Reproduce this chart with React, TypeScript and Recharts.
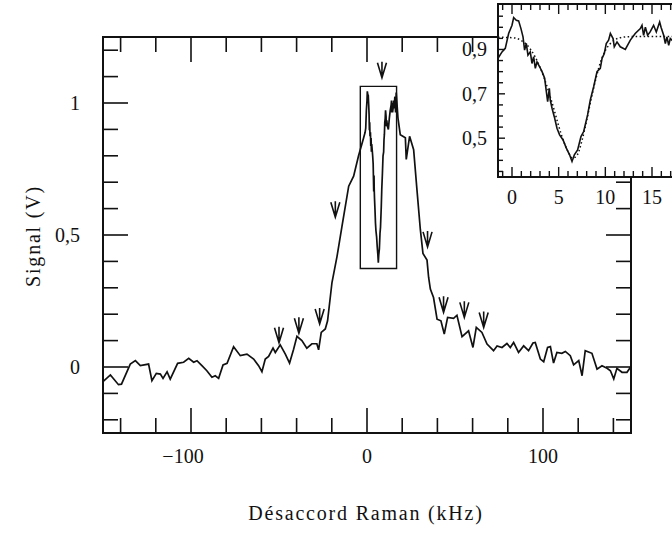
import {
  ComposedChart,
  Line,
  ReferenceArea,
  Scatter,
  XAxis,
  YAxis
} from 'recharts'

// main spectrum (kHz, V)
const MAIN_KHZ = [
  -150, -145.8, -141.2, -139.5, -134.5, -131.6, -128.8, -124.1, -122.2, -119.7, -117.4, -115.9,
  -113.6, -111.8, -107.6, -104.2, -101.3, -98.5, -96.6, -93.8, -91, -88.1, -86.2, -84.3, -81.8,
  -79.5, -75.8, -72, -68.2, -64.4, -61.6, -59.7, -57.8, -55.9, -53.4, -52.1, -49.3, -46.4, -44,
  -41.7, -39.8, -37, -34.2, -31.3, -28.5, -27.5, -26, -23.7, -22.4, -19.9, -17, -14.2, -10.4,
  -7.6, -4.8, -1.9, -1.07, -0.72, -0.36, 0, 0.18, 0.46, 0.71, 0.96, 1.18, 1.35, 1.53, 1.71, 1.96,
  2.14, 2.32, 2.5, 2.68, 2.96, 3.22, 3.5, 3.68, 3.82, 4.0, 4.1, 4.29, 4.53, 4.82, 5.1, 5.47, 5.82,
  6.17, 6.43, 6.68, 7.03, 7.39, 7.68, 8.1, 8.39, 8.75, 9.11, 9.46, 9.65, 9.89, 10.1, 10.35, 10.54,
  10.83, 10.96, 11.25, 11.6, 12.14, 12.68, 13.2, 13.75, 13.93, 14.1, 14.29, 14.53, 14.8, 15.17,
  15.46, 15.82, 15.97, 16.25, 16.6, 17.6, 18.9, 21.8, 22.3, 24.2, 26.5, 28.4, 30.3, 31.8, 34.1,
  35, 36, 37.8, 39.8, 42, 43.9, 45.8, 49.2, 51.1, 54, 57.7, 60.2, 62.1, 65.3, 68.2, 71.9, 73.9,
  76.7, 79.5, 81.4, 83.3, 86.1, 89, 91.8, 94.3, 95.6, 98.5, 100.4, 102.6, 104.2, 106, 107.9,
  110.7, 112.7, 115.5, 117.4, 120.3, 122.2, 124, 127.8, 130.7, 133.5, 136.4, 138.3, 140.2, 142,
  144.9, 147.7, 150
]
const MAIN_V = [
  -0.055, -0.03, -0.067, -0.065, 0.011, 0.024, 0.005, 0.011, -0.052, -0.024, -0.027, -0.043,
  -0.018, -0.046, 0.014, 0.018, 0.033, 0.018, 0.024, 0.005, -0.014, -0.039, -0.033, -0.043, 0.008,
  0.014, 0.077, 0.043, 0.049, 0.03, 0.005, -0.018, 0.03, 0.04, 0.072, 0.055, 0.084, 0.049, 0.015,
  0.067, 0.116, 0.1, 0.071, 0.088, 0.088, 0.065, 0.131, 0.144, 0.175, 0.32, 0.42, 0.534, 0.685,
  0.723, 0.8, 0.868, 0.889, 0.905, 0.972, 1.009, 1.044, 1.032, 1.029, 0.994, 0.957, 0.897, 0.927,
  0.874, 0.889, 0.837, 0.867, 0.815, 0.844, 0.822, 0.8, 0.77, 0.71, 0.665, 0.725, 0.672, 0.635,
  0.597, 0.545, 0.515, 0.492, 0.455, 0.425, 0.395, 0.425, 0.447, 0.507, 0.53, 0.605, 0.672, 0.732,
  0.8, 0.815, 0.86, 0.882, 0.927, 0.942, 0.972, 0.949, 0.912, 0.934, 0.912, 0.9, 0.942, 0.972,
  0.994, 1.009, 0.964, 1.0, 0.964, 0.979, 1.009, 0.979, 1.024, 1.0, 0.964, 1.04, 0.943, 0.88,
  0.868, 0.786, 0.874, 0.823, 0.67, 0.521, 0.43, 0.405, 0.34, 0.295, 0.263, 0.181, 0.175, 0.125,
  0.188, 0.184, 0.196, 0.115, 0.137, 0.074, 0.15, 0.131, 0.087, 0.062, 0.08, 0.074, 0.089, 0.074,
  0.093, 0.055, 0.08, 0.062, 0.091, 0.093, 0.03, 0.02, 0.074, 0.077, 0.015, 0.055, 0.052, 0.059,
  0.043, 0.008, 0.024, -0.033, 0.062, 0.052, -0.008, 0.005, -0.005, -0.014, -0.045, -0.005, -0.02,
  -0.02, 0.002
]

// arrows marking the sidebands (tip position)
const ARROW_KHZ = [-50, -38.7, -26.9, -18, 8.5, 34.4, 43.5, 55.3, 66.3]
const ARROW_V = [0.092, 0.128, 0.163, 0.567, 1.096, 0.455, 0.207, 0.188, 0.15]

// zoomed box
const BOX_KHZ = [-3.8, 16.8]
const BOX_V = [0.373, 1.063]

// inset: measured signal and fit
const INSET_KHZ = [
  -1.5, -1.07, -0.72, -0.36, 0, 0.18, 0.46, 0.71, 0.96, 1.18, 1.35, 1.53, 1.71, 1.96, 2.14, 2.32,
  2.5, 2.68, 2.96, 3.22, 3.5, 3.68, 3.82, 4.0, 4.1, 4.29, 4.53, 4.82, 5.1, 5.47, 5.82, 6.17, 6.43,
  6.68, 7.03, 7.39, 7.68, 8.1, 8.39, 8.75, 9.11, 9.46, 9.65, 9.89, 10.1, 10.35, 10.54, 10.83,
  10.96, 11.25, 11.6, 12.14, 12.68, 13.2, 13.75, 13.93, 14.1, 14.29, 14.53, 14.8, 15.17, 15.46,
  15.82, 15.97, 16.25, 16.43, 16.6, 16.79, 16.96, 17.2, 17.5
]
const INSET_V = [
  0.86, 0.889, 0.905, 0.972, 1.009, 1.044, 1.032, 1.029, 0.994, 0.957, 0.897, 0.927, 0.874, 0.889,
  0.837, 0.867, 0.815, 0.844, 0.822, 0.8, 0.77, 0.71, 0.665, 0.725, 0.672, 0.635, 0.597, 0.545,
  0.515, 0.492, 0.455, 0.425, 0.395, 0.425, 0.447, 0.507, 0.53, 0.605, 0.672, 0.732, 0.8, 0.815,
  0.86, 0.882, 0.927, 0.942, 0.972, 0.949, 0.912, 0.934, 0.912, 0.9, 0.942, 0.972, 0.994, 1.009,
  0.964, 1.0, 0.964, 0.979, 1.009, 0.979, 1.024, 1.0, 0.964, 0.927, 0.957, 0.919, 0.949, 0.94, 0.935
]
const FIT_KHZ = [
  -1.5, -1, -0.5, 0, 0.5, 1, 1.5, 2, 2.5, 3, 3.5, 4, 4.5, 5, 5.5, 6, 6.5, 7, 7.5, 8, 8.5, 9, 9.5,
  10, 10.5, 11, 11.5, 12, 13, 14, 15, 16, 17, 18
]
const FIT_V = [
  0.955, 0.955, 0.954, 0.953, 0.95, 0.94, 0.925, 0.9, 0.865, 0.82, 0.765, 0.7, 0.63, 0.555, 0.49,
  0.44, 0.41, 0.425, 0.49, 0.58, 0.68, 0.77, 0.845, 0.895, 0.925, 0.943, 0.952, 0.956, 0.958,
  0.958, 0.958, 0.958, 0.958, 0.958
]

// ticks
const MAIN_X_TICKS = [-140, -120, -100, -80, -60, -40, -20, 0, 20, 40, 60, 80, 100, 120, 140]
const MAIN_X_LABELS = [-100, 0, 100]
const MAIN_Y_TICKS = [-0.2, -0.1, 0, 0.1, 0.2, 0.3, 0.4, 0.5, 0.6, 0.7, 0.8, 0.9, 1, 1.1, 1.2]
const MAIN_Y_LABELS = [0, 0.5, 1]
const INSET_X_TICKS = [-1, 0, 1, 2, 3, 4, 5, 6, 7, 8, 9, 10, 11, 12, 13, 14, 15, 16, 17, 18, 19]
const INSET_X_LABELS = [0, 5, 10, 15]
const INSET_Y_TICKS = [
  0.35, 0.4, 0.45, 0.5, 0.55, 0.6, 0.65, 0.7, 0.75, 0.8, 0.85, 0.9, 0.95, 1, 1.05
]
const INSET_Y_LABELS = [0.5, 0.7, 0.9]

const mainData = MAIN_KHZ.map((k, i) => ({ k, v: MAIN_V[i] }))
const arrowData = ARROW_KHZ.map((k, i) => ({ k, v: ARROW_V[i] }))
const insetData = INSET_KHZ.map((k, i) => ({ k, v: INSET_V[i] }))
const fitData = FIT_KHZ.map((k, i) => ({ k, v: FIT_V[i] }))

const FONT = "'Liberation Serif', 'DejaVu Serif', serif"
const INK = '#111'
const TEXT_STYLE = { fontFamily: FONT, fontSize: 20 }

// main plot rectangle (page pixels)
const MAIN = { top: 37, bottom: 433, left: 103, right: 631 }
// inset chart placement and its plot rectangle (chart-local pixels)
const INSET_POS = { left: 440, top: 0, width: 260, height: 215 }
const INSET = { top: 4, bottom: 177, left: 58, right: 254 }

const has = (list: number[], v: number) => list.some((t) => Math.abs(t - v) < 1e-6)
const fmtX = (v: number) => (v < 0 ? '\u2212' + Math.abs(v) : String(v))
const fmtY = (v: number) => (Number.isInteger(v) ? String(v) : v.toFixed(1).replace('.', ','))

function MainXTick(props: any) {
  const { x, payload } = props
  const v = payload.value
  const major = has(MAIN_X_LABELS, v)
  const len = major ? 25 : 15
  return (
    <g>
      <line x1={x} x2={x} y1={MAIN.bottom} y2={MAIN.bottom - len} stroke={INK} strokeWidth={1.6} />
      <line x1={x} x2={x} y1={MAIN.top} y2={MAIN.top + len} stroke={INK} strokeWidth={1.6} />
      {major && (
        <text x={v < 0 ? x - 8 : x} y={MAIN.bottom + 30} textAnchor="middle" style={TEXT_STYLE} fill={INK}>
          {fmtX(v)}
        </text>
      )}
    </g>
  )
}

function MainYTick(props: any) {
  const { y, payload } = props
  const v = payload.value
  const major = has(MAIN_Y_LABELS, v)
  const len = major ? 25 : 15
  return (
    <g>
      <line x1={MAIN.left} x2={MAIN.left + len} y1={y} y2={y} stroke={INK} strokeWidth={1.6} />
      <line x1={MAIN.right} x2={MAIN.right - len} y1={y} y2={y} stroke={INK} strokeWidth={1.6} />
      {major && (
        <text x={80} y={y + 7} textAnchor="end" style={TEXT_STYLE} fill={INK}>
          {fmtY(v)}
        </text>
      )}
    </g>
  )
}

function InsetXTick(props: any) {
  const { x, payload } = props
  const v = payload.value
  const major = has(INSET_X_LABELS, v)
  const len = major ? 10 : 6
  return (
    <g>
      <line x1={x} x2={x} y1={INSET.bottom} y2={INSET.bottom - len} stroke={INK} strokeWidth={1.4} />
      <line x1={x} x2={x} y1={INSET.top} y2={INSET.top + len} stroke={INK} strokeWidth={1.4} />
      {major && (
        <text x={x} y={INSET.bottom + 27} textAnchor="middle" style={TEXT_STYLE} fill={INK}>
          {fmtX(v)}
        </text>
      )}
    </g>
  )
}

function InsetYTick(props: any) {
  const { y, payload } = props
  const v = payload.value
  const major = has(INSET_Y_LABELS, v)
  const len = major ? 7 : 5
  return (
    <g>
      <line x1={INSET.left} x2={INSET.left + len} y1={y} y2={y} stroke={INK} strokeWidth={1.4} />
      <line x1={INSET.right} x2={INSET.right - len} y1={y} y2={y} stroke={INK} strokeWidth={1.4} />
      {major && (
        <text x={INSET.left - 11} y={y + 7} textAnchor="end" style={TEXT_STYLE} fill={INK}>
          {fmtY(v)}
        </text>
      )}
    </g>
  )
}

function ArrowMark(props: any) {
  const { cx, cy } = props
  const d = `M${cx - 4.5},${cy - 15} L${cx},${cy} L${cx + 4.5},${cy - 15} M${cx},${cy - 16} L${cx},${cy}`
  return <path d={d} stroke={INK} strokeWidth={1.6} fill="none" />
}

export default function App() {
  return (
    <div style={{ position: 'absolute', left: 0, top: 0, width: 672, height: 533, overflow: 'hidden', background: '#fff' }}>
      <div style={{ position: 'absolute', left: 0, top: 0 }}>
        <ComposedChart width={672} height={533} margin={{ top: 37, right: 41, bottom: 0, left: 0 }}>
          <XAxis
            dataKey="k"
            type="number"
            domain={[-150, 150]}
            ticks={MAIN_X_TICKS}
            interval={0}
            height={100}
            axisLine={false}
            tickLine={false}
            tickSize={0}
            tick={(p: any) => <MainXTick {...p} />}
          />
          <YAxis
            type="number"
            domain={[-0.25, 1.25]}
            ticks={MAIN_Y_TICKS}
            interval={0}
            width={103}
            axisLine={false}
            tickLine={false}
            tickSize={0}
            tick={(p: any) => <MainYTick {...p} />}
          />
          <ReferenceArea x1={-150} x2={150} y1={-0.25} y2={1.25} fill="none" stroke={INK} strokeWidth={2} ifOverflow="visible" />
          <ReferenceArea x1={BOX_KHZ[0]} x2={BOX_KHZ[1]} y1={BOX_V[0]} y2={BOX_V[1]} fill="none" stroke={INK} strokeWidth={1.4} ifOverflow="visible" />
          <Line data={mainData} dataKey="v" type="linear" stroke={INK} strokeWidth={1.7} dot={false} isAnimationActive={false} />
          <Scatter data={arrowData} dataKey="v" shape={(p: any) => <ArrowMark {...p} />} isAnimationActive={false} />
        </ComposedChart>
      </div>
      <div
        style={{
          position: 'absolute',
          left: INSET_POS.left + INSET.left,
          top: INSET_POS.top + INSET.top,
          width: INSET.right - INSET.left,
          height: INSET.bottom - INSET.top,
          background: '#fff'
        }}
      />
      <div style={{ position: 'absolute', left: INSET_POS.left, top: INSET_POS.top }}>
        <ComposedChart width={INSET_POS.width} height={INSET_POS.height} margin={{ top: 4, right: 6, bottom: 0, left: 0 }}>
          <XAxis
            dataKey="k"
            type="number"
            domain={[-1.5, 19.5]}
            ticks={INSET_X_TICKS}
            interval={0}
            height={38}
            axisLine={false}
            tickLine={false}
            tickSize={0}
            allowDataOverflow
            tick={(p: any) => <InsetXTick {...p} />}
          />
          <YAxis
            type="number"
            domain={[0.325, 1.105]}
            ticks={INSET_Y_TICKS}
            interval={0}
            width={58}
            axisLine={false}
            tickLine={false}
            tickSize={0}
            allowDataOverflow
            tick={(p: any) => <InsetYTick {...p} />}
          />
          <ReferenceArea x1={-1.5} x2={19.5} y1={0.325} y2={1.105} fill="none" stroke={INK} strokeWidth={2} ifOverflow="visible" />
          <Line data={fitData} dataKey="v" type="monotone" stroke={INK} strokeWidth={1.5} strokeDasharray="1.5 2.5" dot={false} isAnimationActive={false} />
          <Line data={insetData} dataKey="v" type="linear" stroke={INK} strokeWidth={1.6} dot={false} isAnimationActive={false} />
        </ComposedChart>
      </div>
      <svg width={672} height={533} style={{ position: 'absolute', left: 0, top: 0, pointerEvents: 'none' }}>
        <text x={366} y={520} textAnchor="middle" style={{ ...TEXT_STYLE, letterSpacing: 1.8 }} fill={INK}>
          Désaccord Raman (kHz)
        </text>
        <text
          x={40}
          y={236}
          textAnchor="middle"
          style={{ ...TEXT_STYLE, letterSpacing: 1.8 }}
          fill={INK}
          transform="rotate(-90 40 236)"
        >
          Signal (V)
        </text>
      </svg>
    </div>
  )
}
